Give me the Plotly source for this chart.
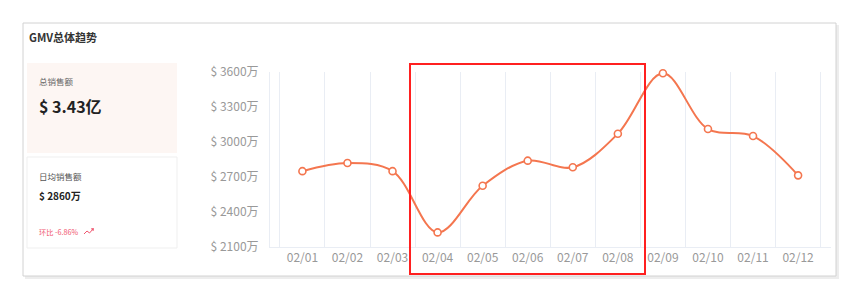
import plotly.graph_objects as go

W, H = 865, 292

dates = ["02/01", "02/02", "02/03", "02/04", "02/05", "02/06",
         "02/07", "02/08", "02/09", "02/10", "02/11", "02/12"]
gmv_wan = [2750, 2820, 2750, 2225, 2625, 2840, 2783, 3071, 3589, 3111, 3051, 2714]
y_ticks = [2100, 2400, 2700, 3000, 3300, 3600]
y_tick_text = [f"$ {v}万" for v in y_ticks]

title_text = "GMV总体趋势"
total_label = "总销售额"
total_value = "$ 3.43亿"
avg_label = "日均销售额"
avg_value = "$ 2860万"
mom_text = "环比 -6.86%"

LINE = "#f4764f"
FONT = "Noto Sans CJK SC, Noto Sans, sans-serif"


def px(x):
    return x / W


def py(y):
    return 1 - y / H


fig = go.Figure()
fig.add_trace(go.Scatter(
    x=dates, y=gmv_wan, mode="lines+markers", cliponaxis=False,
    line=dict(color=LINE, width=2, shape="spline", smoothing=1.0),
    marker=dict(size=7, color="white", line=dict(color=LINE, width=1.6)),
    hoverinfo="skip", showlegend=False,
))

shapes = [
    # card shadow + card
    dict(type="rect", xref="paper", yref="paper", x0=px(25), x1=px(839), y0=py(279), y1=py(25),
         line=dict(width=0), fillcolor="rgba(0,0,0,0.07)", layer="below"),
    dict(type="rect", xref="paper", yref="paper", x0=px(23), x1=px(836), y0=py(276), y1=py(23),
         line=dict(color="#d2d2d2", width=1), fillcolor="white", layer="below"),
    # left panels
    dict(type="rect", xref="paper", yref="paper", x0=px(27), x1=px(177), y0=py(153), y1=py(63),
         line=dict(width=0), fillcolor="#fdf6f3", layer="below"),
    dict(type="rect", xref="paper", yref="paper", x0=px(27), x1=px(177), y0=py(248), y1=py(157),
         line=dict(color="#efefef", width=1), fillcolor="white", layer="below"),
    # red highlight box
    dict(type="rect", xref="paper", yref="paper", x0=px(410), x1=px(645), y0=py(274), y1=py(64),
         line=dict(color="#ff2020", width=2), fillcolor="rgba(0,0,0,0)", layer="above"),
    # trend icon
    dict(type="path", xref="paper", yref="paper",
         path=f"M {px(84)},{py(234)} L {px(87)},{py(231)} L {px(89.5)},{py(233)} L {px(93)},{py(229)}",
         line=dict(color="#f0556e", width=1)),
    dict(type="path", xref="paper", yref="paper",
         path=f"M {px(91)},{py(229)} L {px(93.5)},{py(228.5)} L {px(93)},{py(231)}",
         line=dict(color="#f0556e", width=1)),
]

annotations = [
    dict(text=f"<b>{title_text}</b>", x=px(27), y=py(37), font=dict(size=11, color="#333333")),
    dict(text=total_label, x=px(37), y=py(81), font=dict(size=8.5, color="#666666")),
    dict(text=f"<b>{total_value}</b>", x=px(37), y=py(106), font=dict(size=16, color="#222222")),
    dict(text=avg_label, x=px(37), y=py(176), font=dict(size=8.5, color="#555555")),
    dict(text=f"<b>{avg_value}</b>", x=px(37), y=py(195), font=dict(size=10, color="#222222")),
    dict(text=mom_text, x=px(37), y=py(232), font=dict(size=7.2, color="#f0556e")),
]
for a in annotations:
    a.update(xref="paper", yref="paper", xanchor="left", yanchor="middle", showarrow=False)

fig.update_layout(
    width=W, height=H,
    margin=dict(l=0, r=0, t=0, b=0, pad=0, autoexpand=False),
    paper_bgcolor="white", plot_bgcolor="rgba(0,0,0,0)",
    font=dict(family=FONT, color="#999999", size=12),
    shapes=shapes, annotations=annotations,
    xaxis=dict(
        domain=[px(270), px(830.5)],
        type="category", tickson="boundaries", automargin=False,
        showgrid=True, gridcolor="#e9edf4", gridwidth=1,
        showline=True, linecolor="#e9edf4", linewidth=1,
        ticks="", tickfont=dict(size=12, color="#999999"),
        zeroline=False, fixedrange=True,
    ),
    yaxis=dict(
        domain=[py(247), py(72)], automargin=False,
        range=[2100, 3600], tickmode="array", tickvals=y_ticks, ticktext=y_tick_text,
        showgrid=False, showline=True, linecolor="#e9edf4", linewidth=1,
        zeroline=False, ticks="", ticklabelstandoff=8,
        tickfont=dict(size=12, color="#999999"), fixedrange=True,
    ),
)

fig.write_html("out.html")
